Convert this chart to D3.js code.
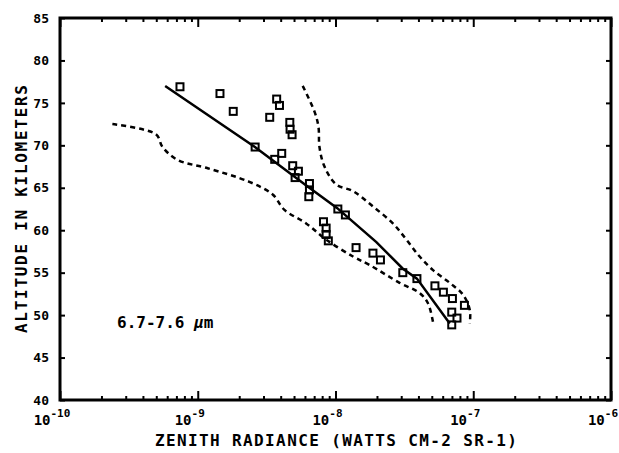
<!DOCTYPE html>
<html>
<head>
<meta charset="utf-8">
<script src="https://cdn.jsdelivr.net/npm/d3@7"></script>
<style>
  body { margin: 0; background: #fff; }
  svg { display: block; }
  .tickLabel, .axisTitle, .note { font-family: "DejaVu Sans Mono", monospace; font-weight: bold; fill: #000; }
</style>
</head>
<body>
<div id="chart"></div>
<script>
// decades shown on the radiance axis
var xExponents = [-10, -9, -8, -7, -6];
var yTicks = [40, 45, 50, 55, 60, 65, 70, 75, 80, 85];

// [radiance, altitude]
var meanProfile = [
  [5.8e-10, 77.0], [2.6e-9, 69.8], [6.1e-9, 65.3], [1.03e-8, 62.6],
  [1.98e-8, 58.6], [3.07e-8, 55.5], [3.9e-8, 54.3], [6.75e-8, 49.0]
];

var lowerBound = [
  [2.4e-10, 72.5], [4.97e-10, 71.3], [5.55e-10, 69.8], [7.1e-10, 68.3], [1.18e-9, 67.3],
  [2.37e-9, 65.7], [3.5e-9, 64.2], [4.26e-9, 62.4], [6.12e-9, 60.8], [8.55e-9, 58.9],
  [1.34e-8, 56.9], [1.77e-8, 55.9], [2.92e-8, 53.8], [4.08e-8, 52.6], [4.69e-8, 51.4],
  [5.1e-8, 49.2]
];

var upperBound = [
  [5.78e-9, 77.0], [7.03e-9, 74.0], [7.52e-9, 72.2], [7.65e-9, 69.8], [8.32e-9, 67.5],
  [1.01e-8, 65.4], [1.34e-8, 64.6], [1.87e-8, 62.8], [2.61e-8, 60.8], [3.27e-8, 58.9],
  [4.08e-8, 56.9], [5.1e-8, 55.3], [6.75e-8, 53.8], [8.43e-8, 52.4], [9.44e-8, 50.6],
  [9.44e-8, 49.0]
];

var observations = [
  [7.43e-10, 76.9], [1.45e-9, 76.1], [1.81e-9, 74.0], [3.74e-9, 75.45], [3.92e-9, 74.7],
  [3.33e-9, 73.3], [4.66e-9, 72.7], [4.68e-9, 71.9], [4.84e-9, 71.25], [2.61e-9, 69.8],
  [4.07e-9, 69.05], [3.62e-9, 68.35], [4.89e-9, 67.6], [5.38e-9, 66.95], [5.09e-9, 66.2],
  [6.47e-9, 65.5], [6.47e-9, 64.75], [6.4e-9, 63.95], [1.04e-8, 62.5], [1.18e-8, 61.8],
  [8.18e-9, 61.0], [8.55e-9, 60.25], [8.55e-9, 59.5], [8.87e-9, 58.75], [1.41e-8, 57.95],
  [1.87e-8, 57.3], [2.12e-8, 56.5], [3.08e-8, 55.0], [3.9e-8, 54.3], [5.27e-8, 53.45],
  [6.07e-8, 52.7], [7.06e-8, 51.95], [8.63e-8, 51.15], [6.98e-8, 50.35], [7.62e-8, 49.65],
  [6.98e-8, 48.85]
];

(function () {
  var width = 619, height = 453;
  var margin = {left: 60, right: 611, top: 18, bottom: 400}; // plot frame edges in px

  var svg = d3.select("#chart").append("svg")
      .attr("width", width)
      .attr("height", height);

  var x = d3.scaleLog()
      .domain([1e-10, 1e-6])
      .range([margin.left, margin.right]);

  var y = d3.scaleLinear()
      .domain([40, 85])
      .range([margin.bottom, margin.top]);

  // minor ticks 2..9 in every decade
  var majors = xExponents.map(e => Math.pow(10, e));
  var minors = [];
  xExponents.slice(0, -1).forEach(function(e) {
    for (var k = 2; k <= 9; k++) minors.push(k * Math.pow(10, e));
  });

  function tickStyle(g) {
    g.select(".domain").remove();
    g.selectAll("line").attr("stroke", "#000").attr("stroke-width", 2);
  }

  svg.append("g").attr("transform", `translate(0,${margin.bottom})`)
      .call(d3.axisBottom(x).tickValues(minors).tickSize(-4).tickSizeOuter(0).tickFormat(""))
      .call(tickStyle);
  svg.append("g").attr("transform", `translate(0,${margin.bottom})`)
      .call(d3.axisBottom(x).tickValues(majors).tickSize(-9).tickSizeOuter(0).tickFormat(""))
      .call(tickStyle);
  svg.append("g").attr("transform", `translate(0,${margin.top})`)
      .call(d3.axisTop(x).tickValues(minors).tickSize(-4).tickSizeOuter(0).tickFormat(""))
      .call(tickStyle);
  svg.append("g").attr("transform", `translate(0,${margin.top})`)
      .call(d3.axisTop(x).tickValues(majors).tickSize(-9).tickSizeOuter(0).tickFormat(""))
      .call(tickStyle);
  svg.append("g").attr("transform", `translate(${margin.left},0)`)
      .call(d3.axisLeft(y).tickValues(yTicks).tickSize(-5).tickSizeOuter(0).tickFormat(""))
      .call(tickStyle);
  svg.append("g").attr("transform", `translate(${margin.right},0)`)
      .call(d3.axisRight(y).tickValues(yTicks).tickSize(-5).tickSizeOuter(0).tickFormat(""))
      .call(tickStyle);

  // frame
  svg.append("rect")
      .attr("x", margin.left)
      .attr("y", margin.top)
      .attr("width", margin.right - margin.left)
      .attr("height", margin.bottom - margin.top)
      .attr("fill", "none")
      .attr("stroke", "#000")
      .attr("stroke-width", 3);

  // y tick labels
  svg.selectAll(".yLabel")
      .data(yTicks)
    .enter().append("text")
      .attr("class", "tickLabel")
      .attr("x", margin.left - 11)
      .attr("y", d => y(d))
      .attr("dy", "0.36em")
      .attr("text-anchor", "end")
      .style("font-size", "13px")
      .text(d => d);

  // x tick labels 10^n
  var xl = svg.selectAll(".xLabel")
      .data(xExponents)
    .enter().append("text")
      .attr("class", "tickLabel")
      .attr("x", d => x(Math.pow(10, d)) - 8)
      .attr("y", 425)
      .attr("text-anchor", "middle")
      .style("font-size", "14px");
  xl.append("tspan").text("10");
  xl.append("tspan")
      .attr("dy", -8)
      .style("font-size", "11px")
      .text(d => d);

  svg.append("text")
      .attr("class", "axisTitle")
      .attr("x", 155)
      .attr("y", 446)
      .attr("textLength", 362)
      .attr("lengthAdjust", "spacing")
      .style("font-size", "16px")
      .text("ZENITH RADIANCE (WATTS CM-2 SR-1)");

  svg.append("text")
      .attr("class", "axisTitle")
      .attr("transform", "translate(27,333) rotate(-90)")
      .attr("textLength", 248)
      .attr("lengthAdjust", "spacing")
      .style("font-size", "16px")
      .text("ALTITUDE IN KILOMETERS");

  var note = svg.append("text")
      .attr("class", "note")
      .attr("x", 117)
      .attr("y", 328)
      .style("font-size", "16px");
  note.append("tspan").text("6.7-7.6 ");
  note.append("tspan").style("font-style", "italic").text("\u03bc");
  note.append("tspan").text("m");

  var line = d3.line()
      .curve(d3.curveCatmullRom.alpha(0.5))
      .x(d => x(d[0]))
      .y(d => y(d[1]));

  svg.append("path")
      .attr("d", d3.line().x(d => x(d[0])).y(d => y(d[1]))(meanProfile))
      .attr("fill", "none")
      .attr("stroke", "#000")
      .attr("stroke-width", 2.5);

  [lowerBound, upperBound].forEach(function(bound) {
    svg.append("path")
        .attr("d", line(bound))
        .attr("fill", "none")
        .attr("stroke", "#000")
        .attr("stroke-width", 2.5)
        .attr("stroke-dasharray", "5,4");
  });

  svg.selectAll(".obs")
      .data(observations)
    .enter().append("rect")
      .attr("class", "obs")
      .attr("x", d => x(d[0]) - 3.5)
      .attr("y", d => y(d[1]) - 3.5)
      .attr("width", 7)
      .attr("height", 7)
      .attr("fill", "none")
      .attr("stroke", "#000")
      .attr("stroke-width", 2);
})();
</script>
</body>
</html>
